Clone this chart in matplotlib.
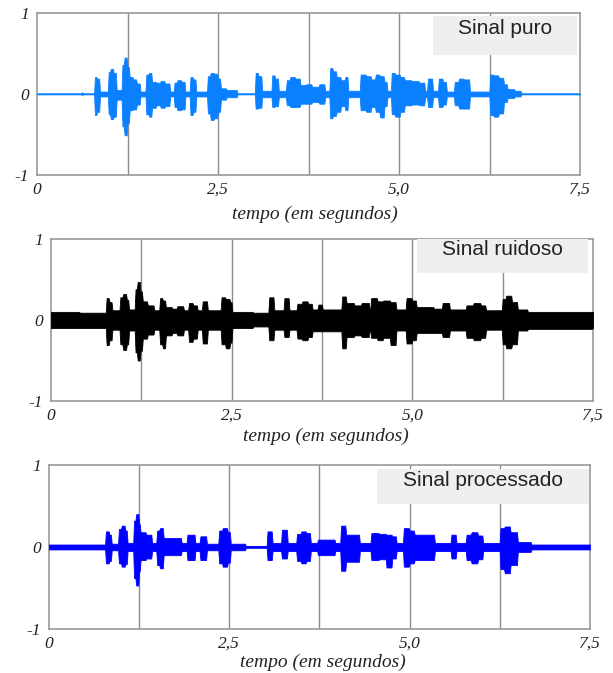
import numpy as np
import matplotlib
matplotlib.use("Agg")
from matplotlib import pyplot as plt
from matplotlib.patches import Rectangle

# envelope of each waveform (value holds until next time)
puro_t = [0, 0.62, 0.64, 0.80, 0.83, 0.87, 0.99, 1.02, 1.06, 1.10, 1.18, 1.21, 1.25,
          1.28, 1.33, 1.38, 1.43, 1.51, 1.55, 1.59, 1.65, 1.71, 1.77, 1.84, 1.90,
          1.94, 2.00, 2.05, 2.12, 2.16, 2.20, 2.36, 2.40, 2.45, 2.50, 2.54, 2.62,
          2.77, 3.02, 3.06, 3.11, 3.25, 3.29, 3.34, 3.45, 3.50, 3.57, 3.64, 3.72,
          3.80, 3.90, 3.98, 4.05, 4.09, 4.14, 4.20, 4.26, 4.30, 4.47, 4.55, 4.62,
          4.68, 4.74, 4.80, 4.84, 4.90, 4.95, 5.02, 5.08, 5.18, 5.28, 5.36, 5.40,
          5.47, 5.55, 5.61, 5.66, 5.77, 5.83, 5.90, 5.98, 6.26, 6.31, 6.38, 6.45,
          6.50, 6.60, 6.69, 7.5]
puro_up = [0.005, 0.02, 0.005, 0.21, 0.19, 0.03, 0.27, 0.31, 0.26, 0.05, 0.36, 0.45, 0.33,
           0.21, 0.18, 0.13, 0.03, 0.24, 0.26, 0.15, 0.14, 0.16, 0.13, 0.03, 0.14,
           0.17, 0.15, 0.03, 0.21, 0.18, 0.03, 0.22, 0.26, 0.25, 0.19, 0.07, 0.05,
           0.005, 0.26, 0.22, 0.04, 0.23, 0.19, 0.04, 0.17, 0.21, 0.19, 0.11, 0.12,
           0.09, 0.12, 0.04, 0.32, 0.28, 0.21, 0.17, 0.21, 0.04, 0.24, 0.22, 0.18,
           0.24, 0.22, 0.15, 0.04, 0.26, 0.24, 0.21, 0.17, 0.16, 0.14, 0.04, 0.19,
           0.04, 0.19, 0.15, 0.03, 0.15, 0.19, 0.18, 0.03, 0.24, 0.23, 0.20, 0.12,
           0.06, 0.04, 0.005, 0.005]
puro_lo = [-0.005, -0.01, -0.005, -0.26, -0.22, -0.03, -0.25, -0.31, -0.28, -0.07, -0.40, -0.51, -0.36,
           -0.20, -0.19, -0.13, -0.03, -0.25, -0.28, -0.17, -0.14, -0.17, -0.15, -0.03, -0.16,
           -0.20, -0.19, -0.03, -0.26, -0.22, -0.03, -0.24, -0.32, -0.30, -0.22, -0.07, -0.04,
           -0.005, -0.18, -0.17, -0.04, -0.16, -0.15, -0.04, -0.14, -0.16, -0.16, -0.12, -0.12,
           -0.10, -0.12, -0.04, -0.30, -0.27, -0.22, -0.15, -0.20, -0.04, -0.20, -0.22, -0.16,
           -0.22, -0.29, -0.15, -0.04, -0.25, -0.28, -0.22, -0.14, -0.13, -0.14, -0.04, -0.16,
           -0.04, -0.16, -0.13, -0.03, -0.14, -0.18, -0.18, -0.03, -0.26, -0.28, -0.24, -0.10,
           -0.05, -0.03, -0.005, -0.005]

ruido_t = [0, 0.40, 0.77, 0.81, 0.85, 0.96, 1.00, 1.05, 1.08, 1.17, 1.20, 1.24, 1.27,
           1.34, 1.43, 1.51, 1.55, 1.59, 1.68, 1.75, 1.84, 1.91, 1.97, 2.03, 2.10,
           2.17, 2.36, 2.42, 2.48, 2.51, 2.80, 3.02, 3.09, 3.23, 3.30, 3.41, 3.48,
           3.56, 3.62, 3.70, 3.76, 4.03, 4.09, 4.20, 4.30, 4.41, 4.43, 4.52, 4.60,
           4.70, 4.78, 4.92, 5.00, 5.06, 5.30, 5.42, 5.52, 5.75, 5.85, 5.95, 6.02,
           6.25, 6.30, 6.38, 6.46, 6.60, 7.5]
ruido_up = [0.10, 0.09, 0.27, 0.22, 0.12, 0.28, 0.32, 0.25, 0.13, 0.38, 0.47, 0.35, 0.23,
            0.18, 0.12, 0.27, 0.24, 0.16, 0.14, 0.17, 0.12, 0.21, 0.18, 0.12, 0.23,
            0.12, 0.28, 0.26, 0.22, 0.10, 0.09, 0.28, 0.12, 0.27, 0.12, 0.20, 0.23,
            0.20, 0.13, 0.19, 0.13, 0.29, 0.21, 0.18, 0.21, 0.12, 0.27, 0.23, 0.24,
            0.22, 0.13, 0.27, 0.24, 0.16, 0.14, 0.21, 0.13, 0.18, 0.21, 0.18, 0.12,
            0.26, 0.30, 0.22, 0.13, 0.10, 0.10]
ruido_lo = [-0.10, -0.10, -0.31, -0.25, -0.12, -0.30, -0.37, -0.30, -0.13, -0.40, -0.50, -0.38, -0.23,
            -0.18, -0.12, -0.30, -0.35, -0.19, -0.16, -0.19, -0.12, -0.27, -0.23, -0.12, -0.29,
            -0.12, -0.30, -0.35, -0.28, -0.10, -0.08, -0.25, -0.12, -0.21, -0.12, -0.23, -0.25,
            -0.21, -0.14, -0.14, -0.14, -0.35, -0.21, -0.19, -0.21, -0.12, -0.22, -0.25, -0.22,
            -0.31, -0.13, -0.29, -0.25, -0.16, -0.16, -0.21, -0.13, -0.22, -0.25, -0.22, -0.12,
            -0.30, -0.35, -0.30, -0.13, -0.11, -0.10]

proc_t = [0, 0.79, 0.84, 0.87, 0.97, 1.01, 1.06, 1.09, 1.18, 1.21, 1.25, 1.27, 1.35,
          1.43, 1.50, 1.54, 1.59, 1.84, 1.92, 2.03, 2.10, 2.19, 2.36, 2.41, 2.48,
          2.52, 2.73, 3.03, 3.10, 3.23, 3.31, 3.44, 3.50, 3.57, 3.63, 3.73, 3.97,
          4.05, 4.12, 4.31, 4.47, 4.58, 4.68, 4.76, 4.82, 4.92, 5.00, 5.07, 5.35,
          5.58, 5.65, 5.79, 5.86, 5.95, 6.02, 6.26, 6.32, 6.40, 6.50, 6.69, 7.5]
proc_up = [0.03, 0.19, 0.15, 0.04, 0.22, 0.26, 0.20, 0.05, 0.32, 0.40, 0.28, 0.18, 0.15,
           0.05, 0.20, 0.23, 0.11, 0.05, 0.15, 0.05, 0.13, 0.04, 0.20, 0.23, 0.18,
           0.04, 0.01, 0.19, 0.05, 0.21, 0.05, 0.16, 0.19, 0.17, 0.05, 0.09, 0.05,
           0.26, 0.15, 0.05, 0.17, 0.16, 0.15, 0.13, 0.05, 0.23, 0.20, 0.15, 0.05,
           0.15, 0.05, 0.15, 0.18, 0.14, 0.05, 0.23, 0.25, 0.18, 0.06, 0.03, 0.03]
proc_lo = [-0.03, -0.20, -0.17, -0.04, -0.20, -0.24, -0.21, -0.05, -0.38, -0.47, -0.30, -0.16, -0.14,
           -0.05, -0.22, -0.26, -0.10, -0.05, -0.16, -0.05, -0.16, -0.04, -0.20, -0.24, -0.19,
           -0.04, -0.01, -0.16, -0.05, -0.14, -0.05, -0.17, -0.20, -0.17, -0.05, -0.10, -0.05,
           -0.29, -0.18, -0.05, -0.16, -0.15, -0.25, -0.14, -0.05, -0.24, -0.20, -0.16, -0.05,
           -0.14, -0.05, -0.16, -0.20, -0.15, -0.05, -0.27, -0.32, -0.22, -0.06, -0.03, -0.03]

xtick_vals = [0, 2.5, 5.0, 7.5]
xtick_labels = ["0", "2,5", "5,0", "7,5"]
grid_x = [1.25, 2.5, 3.75, 5.0, 6.25]

panels = [
    # t, up, lo, color, title, axes rect, title box (x0, y0, w, h), xlabel centre
    (puro_t, puro_up, puro_lo, "#0a80ff", "Sinal puro",
     [0.0604, 0.7400, 0.8858, 0.2407], (0.729, 0.741, 0.265, 0.240), (0.512, -0.241)),
    (ruido_t, ruido_up, ruido_lo, "black", "Sinal ruidoso",
     [0.0832, 0.4042, 0.8842, 0.2407], (0.675, 0.790, 0.316, 0.210), (0.507, -0.216)),
    (proc_t, proc_up, proc_lo, "#0000ff", "Sinal processado",
     [0.0799, 0.0654, 0.8825, 0.2437], (0.606, 0.762, 0.392, 0.214), (0.506, -0.201)),
]

tick_font = dict(family="Liberation Serif", style="italic", size=12.5, color="#222222")
lab_font = dict(family="Liberation Serif", style="italic", size=14, color="#222222")


def hold_shape(t, v, ramp=0.012):
    # value holds until the next time, with a short steep edge between
    xs, ys = [t[0]], [v[0]]
    for k in range(1, len(t)):
        xs += [t[k] - ramp, t[k]]
        ys += [v[k - 1], v[k]]
    return xs, ys


fig = plt.figure(figsize=(6.13, 6.73), dpi=100)

for t, up, lo, col, title, rect, box, lab in panels:
    ax = fig.add_axes(rect)
    ax.set_xlim(0, 7.5)
    ax.set_ylim(-1, 1)
    for gx in grid_x:
        ax.axvline(gx, color="#8c8c8c", lw=1, zorder=1)
    zero_col = "#4da6ff" if col == "#0a80ff" else col
    ax.plot([0, 7.5], [0, 0], color=zero_col, lw=1.2, zorder=2)
    xs, ys_up = hold_shape(t, up)
    _, ys_lo = hold_shape(t, lo)
    ax.fill_between(xs, ys_lo, ys_up, color=col, lw=0.6, zorder=3)

    ax.add_patch(Rectangle((box[0], box[1]), box[2], box[3], transform=ax.transAxes,
                           facecolor="#efefef", edgecolor="none", zorder=4))
    ax.text(box[0] + box[2] / 2, box[1] + box[3] * 0.68, title, transform=ax.transAxes,
            ha="center", va="center", family="Liberation Sans", size=15,
            color="#222222", zorder=5)

    ax.set_xticks(xtick_vals)
    ax.set_xticklabels(xtick_labels, fontdict=tick_font)
    ax.set_yticks([-1, 0, 1])
    ax.set_yticklabels(["-1", "0", "1"], fontdict=tick_font)
    ax.tick_params(axis="x", length=0, pad=5)
    ax.tick_params(axis="y", length=0, pad=6)
    ax.set_xlabel("tempo (em segundos)", fontdict=lab_font)
    ax.xaxis.set_label_coords(lab[0], lab[1])
    ax.xaxis.label.set_verticalalignment("center")
    for s in ax.spines.values():
        s.set_color("#9a9a9a")
        s.set_linewidth(1.2)

fig.savefig("out.png", dpi=100)
